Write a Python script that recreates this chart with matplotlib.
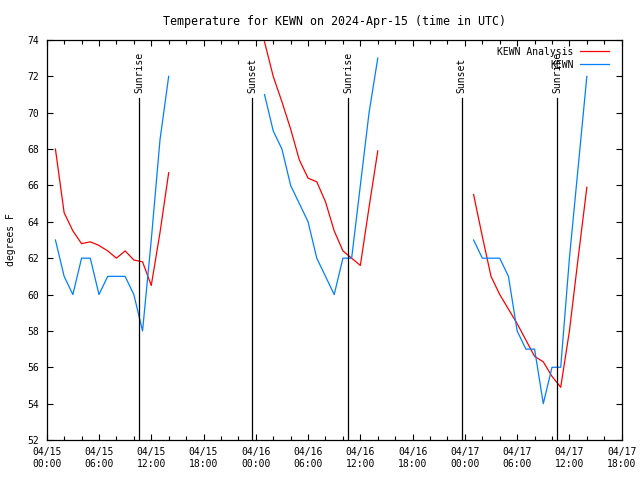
import numpy as np
import pandas as pd
import matplotlib
matplotlib.use("Agg")
import matplotlib.pyplot as plt
import matplotlib.dates as mdates

plt.rcParams['font.family'] = ['DejaVu Sans Mono']
plt.rcParams['font.size'] = 7

# hourly values, 01:00 - 14:00 UTC each day
day_starts = ["2024-04-15 01:00", "2024-04-16 01:00", "2024-04-17 01:00"]

analysis = [
    [68.0, 64.5, 63.5, 62.8, 62.9, 62.7, 62.4, 62.0, 62.4, 61.9, 61.8, 60.5, 63.4, 66.7],
    [73.9, 72.0, 70.6, 69.1, 67.4, 66.4, 66.2, 65.1, 63.5, 62.4, 62.0, 61.6, 64.8, 67.9],
    [65.5, 63.2, 61.0, 60.0, 59.2, 58.4, 57.5, 56.6, 56.3, 55.5, 54.9, 58.0, 62.0, 65.9],
]
observed = [
    [63, 61, 60, 62, 62, 60, 61, 61, 61, 60, 58, 63, 68.5, 72],
    [71, 69, 68, 66, 65, 64, 62, 61, 60, 62, 62, 66, 70, 73],
    [63, 62, 62, 62, 61, 58, 57, 57, 54, 56, 56, 62, 67, 72],
]

sunrise = ["2024-04-15 10:38", "2024-04-16 10:37", "2024-04-17 10:36"]
sunset = ["2024-04-15 23:36", "2024-04-16 23:37"]

fig = plt.figure(figsize=(6.4, 4.8), dpi=100)
ax = fig.add_axes([0.073, 0.0833, 0.8984, 0.8334])

red = "#ff0000"
blue = "#0080ff"
for i, start in enumerate(day_starts):
    t = pd.date_range(start, periods=len(analysis[i]), freq="h")
    ax.plot(t, analysis[i], color=red, lw=0.9, label="KEWN Analysis" if i == 0 else None)
    ax.plot(t, observed[i], color=blue, lw=0.9, label="KEWN" if i == 0 else None)

line_top = 70.8
for s in sunrise:
    ts = pd.Timestamp(s)
    ax.plot([ts, ts], [52, line_top], color="black", lw=0.9)
    ax.text(ts, 71.1, "Sunrise", rotation=90, ha="center", va="bottom")
for s in sunset:
    ts = pd.Timestamp(s)
    ax.plot([ts, ts], [52, line_top], color="black", lw=0.9)
    ax.text(ts, 71.1, "Sunset", rotation=90, ha="center", va="bottom")

ax.set_xlim(pd.Timestamp("2024-04-15 00:00"), pd.Timestamp("2024-04-17 18:00"))
ax.set_ylim(52, 74)
ax.set_yticks(np.arange(52, 75, 2))
ax.xaxis.set_major_locator(mdates.HourLocator(byhour=[0, 6, 12, 18]))
ax.xaxis.set_minor_locator(mdates.HourLocator(interval=2))
ax.xaxis.set_major_formatter(mdates.DateFormatter("%m/%d\n%H:%M"))

ax.tick_params(which="both", direction="in", top=True, right=True, width=0.8, color="black")
ax.tick_params(which="major", length=4.5)
ax.tick_params(which="minor", length=3)
ax.tick_params(axis="x", pad=5)
ax.tick_params(axis="y", pad=5.5)
for sp in ax.spines.values():
    sp.set_linewidth(0.9)

ax.set_ylabel("degrees F", labelpad=8)
ax.set_title("Temperature for KEWN on 2024-Apr-15 (time in UTC)", pad=11)

ax.legend(loc="upper right", bbox_to_anchor=(0.984, 0.993), frameon=False,
          markerfirst=False, handlelength=2.9, handletextpad=0.7, labelspacing=0.3,
          borderaxespad=0.2, borderpad=0.2)

fig.savefig("out.png", dpi=100)
